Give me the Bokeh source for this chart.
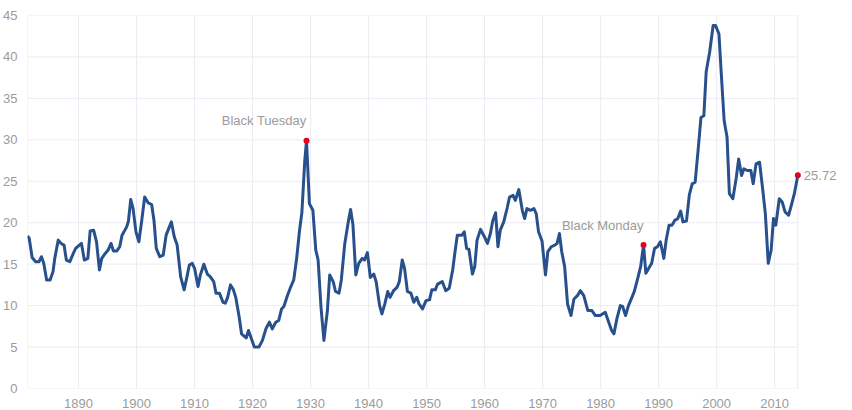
from bokeh.plotting import figure
from bokeh.models import FixedTicker, ColumnDataSource, Range1d
from bokeh.embed import file_html
from bokeh.resources import INLINE
from bokeh.core.properties import value

years = [1881.2, 1881.5, 1882.0, 1882.6, 1883.2, 1883.6, 1884.0, 1884.5, 1885.1, 1885.6,
         1885.9, 1886.5, 1887.0, 1887.5, 1887.9, 1888.5, 1889.1, 1889.5, 1890.5, 1891.0,
         1891.6, 1892.0, 1892.6, 1893.1, 1893.6, 1894.0, 1894.6, 1895.1, 1895.6, 1896.0,
         1896.6, 1897.1, 1897.5, 1898.3, 1898.6, 1899.0, 1899.4, 1899.9, 1900.4, 1900.9,
         1901.4, 1902.0, 1902.6, 1903.0, 1903.4, 1904.0, 1904.6, 1905.1, 1906.0, 1906.5,
         1907.0, 1907.6, 1908.2, 1908.7, 1909.1, 1909.6, 1910.0, 1910.6, 1911.0, 1911.6,
         1912.2, 1912.7, 1913.3, 1913.7, 1914.3, 1914.9, 1915.3, 1915.7, 1916.2, 1916.7,
         1917.1, 1917.7, 1918.1, 1918.9, 1919.3, 1919.7, 1920.3, 1921.1, 1921.7, 1922.3,
         1922.9, 1923.4, 1924.0, 1924.5, 1925.0, 1925.4, 1926.0, 1926.6, 1927.1, 1927.6,
         1928.1, 1928.5, 1929.0, 1929.3, 1929.8, 1930.4, 1930.9, 1931.3, 1931.8, 1932.3,
         1932.9, 1933.3, 1933.9, 1934.3, 1934.9, 1935.3, 1935.9, 1936.5, 1936.9, 1937.3,
         1937.8, 1938.3, 1938.9, 1939.3, 1939.8, 1940.3, 1940.9, 1941.3, 1941.9, 1942.3,
         1942.8, 1943.3, 1943.7, 1944.3, 1944.9, 1945.3, 1945.8, 1946.2, 1946.7, 1947.3,
         1947.8, 1948.3, 1948.7, 1949.3, 1949.9, 1950.5, 1950.9, 1951.5, 1951.9, 1952.7,
         1953.3, 1953.9, 1954.5, 1954.9, 1955.3, 1956.1, 1956.5, 1956.9, 1957.3, 1957.9,
         1958.3, 1958.7, 1959.3, 1959.9, 1960.5, 1961.0, 1961.4, 1961.9, 1962.3, 1962.7,
         1963.3, 1963.9, 1964.3, 1964.9, 1965.3, 1965.9, 1966.5, 1966.9, 1967.3, 1967.9,
         1968.5, 1968.9, 1969.3, 1969.9, 1970.5, 1970.9, 1971.5, 1972.1, 1972.5, 1972.9,
         1973.3, 1973.8, 1974.3, 1974.9, 1975.4, 1976.0, 1976.5, 1977.1, 1977.8, 1978.5,
         1979.1, 1979.9, 1980.8, 1981.4, 1981.9, 1982.3, 1982.8, 1983.4, 1983.8, 1984.3,
         1984.8, 1985.4, 1985.8, 1986.4, 1986.9, 1987.4, 1987.8, 1988.3, 1988.8, 1989.3,
         1989.8, 1990.3, 1990.9, 1991.3, 1991.8, 1992.3, 1992.8, 1993.3, 1993.8, 1994.2,
         1994.8, 1995.3, 1995.8, 1996.3, 1996.8, 1997.3, 1997.8, 1998.2, 1998.8, 1999.4,
         1999.8, 2000.4, 2000.8, 2001.3, 2001.8, 2002.2, 2002.8, 2003.4, 2003.8, 2004.3,
         2004.7, 2005.3, 2005.9, 2006.3, 2006.8, 2007.4, 2007.9, 2008.4, 2008.9, 2009.4,
         2009.8, 2010.2, 2010.8, 2011.3, 2011.8, 2012.4, 2012.8, 2013.4, 2014.0]

pe_ratio = [18.4, 18.1, 15.8, 15.3, 15.3, 15.9, 15.1, 13.1, 13.1, 14.1,
            15.7, 17.9, 17.5, 17.3, 15.5, 15.3, 16.3, 16.9, 17.5, 15.5,
            15.7, 19.0, 19.1, 17.7, 14.3, 15.7, 16.3, 16.7, 17.5, 16.6,
            16.6, 17.1, 18.5, 19.5, 20.2, 22.8, 21.7, 18.9, 17.7, 20.3,
            23.1, 22.4, 22.2, 20.3, 16.9, 15.9, 16.1, 18.5, 20.1, 18.3,
            17.3, 13.5, 11.9, 13.5, 14.9, 15.1, 14.5, 12.3, 13.7, 15.0,
            13.8, 13.5, 12.9, 11.5, 11.5, 10.4, 10.3, 11.0, 12.5, 11.9,
            11.0, 8.6, 6.6, 6.1, 7.0, 6.2, 5.0, 5.0, 5.8, 7.2,
            8.0, 7.2, 8.0, 8.2, 9.6, 9.9, 11.2, 12.3, 13.1, 15.7,
            19.1, 21.2, 27.5, 29.9, 22.3, 21.5, 16.7, 15.5, 9.8, 5.8,
            9.4, 13.7, 12.9, 11.7, 11.5, 13.1, 17.5, 20.1, 21.6, 19.8,
            13.7, 15.1, 15.7, 15.5, 16.4, 13.4, 13.8, 12.9, 10.0, 9.0,
            10.2, 11.7, 11.0, 11.8, 12.2, 12.9, 15.5, 14.5, 11.7, 11.5,
            10.4, 11.0, 10.2, 9.6, 10.6, 10.7, 11.9, 11.9, 12.6, 12.9,
            11.8, 12.1, 14.3, 16.5, 18.5, 18.5, 18.9, 16.9, 16.8, 13.8,
            14.7, 17.9, 19.2, 18.4, 17.5, 18.7, 20.2, 21.2, 17.1, 19.1,
            20.1, 21.8, 23.1, 23.3, 22.7, 24.0, 21.5, 20.5, 21.7, 21.5,
            21.7, 21.1, 18.9, 17.8, 13.7, 16.5, 17.1, 17.3, 17.5, 18.7,
            16.5, 14.7, 10.2, 8.8, 10.8, 11.2, 11.8, 11.2, 9.4, 9.4,
            8.8, 8.8, 9.2, 8.0, 7.0, 6.6, 8.4, 10.0, 9.9, 8.8,
            10.0, 11.0, 11.7, 13.3, 14.7, 17.3, 13.9, 14.5, 15.1, 16.9,
            17.1, 17.7, 15.7, 17.9, 19.7, 19.7, 20.3, 20.5, 21.4, 20.1,
            20.2, 23.4, 24.7, 24.9, 28.7, 32.7, 32.9, 38.2, 40.6, 43.8,
            43.8, 42.8, 38.0, 32.3, 30.3, 23.5, 22.9, 25.5, 27.7, 25.7,
            26.5, 26.3, 26.3, 24.7, 27.1, 27.3, 24.3, 21.1, 15.1, 16.7,
            20.5, 19.7, 22.9, 22.5, 21.3, 20.9, 21.9, 23.5, 25.72]

event_labels = ["Black Tuesday", "Black Monday"]
event_years = [1929.3, 1987.4]
event_values = [29.9, 17.3]

last_labels = ["25.72"]
last_years = [2014.0]
last_values = [25.72]

x_ticks = [1890, 1900, 1910, 1920, 1930, 1940, 1950, 1960, 1970, 1980, 1990, 2000, 2010]
y_ticks = [0, 5, 10, 15, 20, 25, 30, 35, 40, 45]

FONT = "Liberation Sans"
GRID = "#ebebf3"
LABEL = "#9b9b9b"
LINE = "#27508c"
DOT = "#e8001c"

x0, x1 = years[0], years[-1]
pad = 7.7  # extra room right of the data for the end label

p = figure(width=852, height=410, output_backend="svg", toolbar_location=None,
           x_range=Range1d(x0, x1 + pad), y_range=Range1d(0, 45),
           min_border_left=22, min_border_right=10, min_border_top=15, min_border_bottom=22)

p.background_fill_color = "white"
p.border_fill_color = "white"
p.outline_line_color = None
p.xgrid.visible = False
p.ygrid.visible = False

for ax in (p.xaxis, p.yaxis):
    ax.axis_line_color = None
    ax.major_tick_line_color = None
    ax.minor_tick_line_color = None
    ax.major_label_text_color = LABEL
    ax.major_label_text_font = FONT
    ax.major_label_text_font_size = "13px"
    ax.major_label_standoff = 4

p.xaxis.ticker = FixedTicker(ticks=x_ticks)
p.yaxis.ticker = FixedTicker(ticks=y_ticks)

# grid lines limited to the data span
vx = [x0] + x_ticks + [x1]
p.segment(x0=vx, y0=[y_ticks[0]] * len(vx), x1=vx, y1=[y_ticks[-1]] * len(vx),
          line_color=GRID, line_width=1)
p.segment(x0=[x0] * len(y_ticks), y0=y_ticks, x1=[x1] * len(y_ticks), y1=y_ticks,
          line_color=GRID, line_width=1)

src = ColumnDataSource(data=dict(x=years, y=pe_ratio))
p.line("x", "y", source=src, line_color=LINE, line_width=3, line_join="round")

ev = ColumnDataSource(data=dict(x=event_years, y=event_values, t=event_labels))
p.scatter("x", "y", source=ev, size=6, fill_color=DOT, line_color=None)
p.text("x", "y", text="t", source=ev, text_align="right", text_baseline="middle",
       y_offset=-20, text_color=LABEL, text_font=value(FONT), text_font_size="13px")

ls = ColumnDataSource(data=dict(x=last_years, y=last_values, t=last_labels))
p.scatter("x", "y", source=ls, size=6, fill_color=DOT, line_color=None)
p.text("x", "y", text="t", source=ls, text_align="left", text_baseline="middle",
       x_offset=6, text_color=LABEL, text_font=value(FONT), text_font_size="13px")

open("out.html", "w").write(file_html(p, INLINE))
